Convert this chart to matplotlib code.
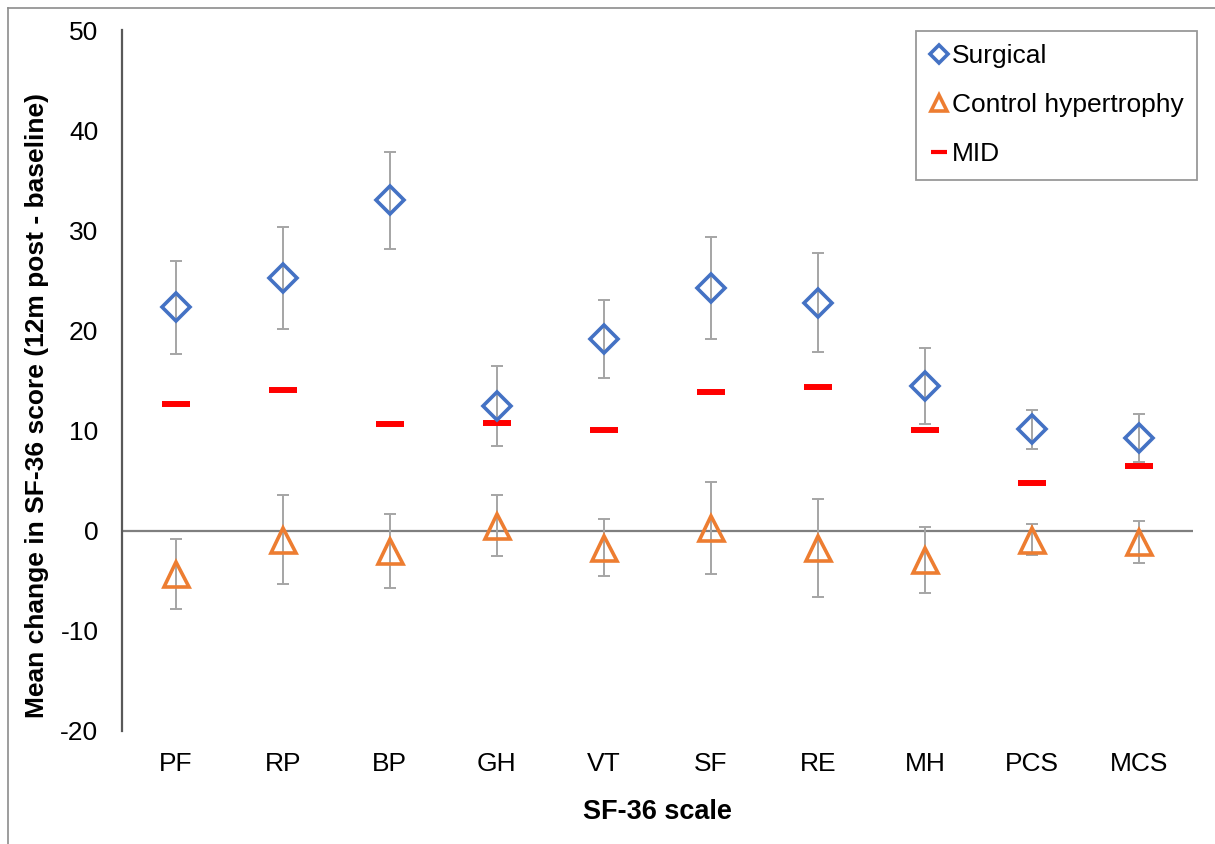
import numpy as np
import matplotlib.pyplot as plt
from matplotlib.lines import Line2D

plt.rcParams['font.family'] = ['Liberation Sans', 'DejaVu Sans']
plt.rcParams['axes.unicode_minus'] = False

scales = ['PF', 'RP', 'BP', 'GH', 'VT', 'SF', 'RE', 'MH', 'PCS', 'MCS']
surgical = [22.3, 25.2, 33.0, 12.45, 19.1, 24.2, 22.75, 14.45, 10.15, 9.3]
surgical_err = [4.65, 5.1, 4.85, 3.95, 3.9, 5.1, 4.95, 3.75, 1.95, 2.4]
control = [-4.3, -0.9, -2.0, 0.5, -1.7, 0.28, -1.75, -2.95, -0.9, -1.1]
control_err = [3.5, 4.45, 3.7, 3.06, 2.87, 4.58, 4.88, 3.3, 1.55, 2.1]
mid = [12.7, 14.1, 10.7, 10.8, 10.1, 13.9, 14.4, 10.1, 4.8, 6.5]

x = np.arange(len(scales))

fig = plt.figure(figsize=(12.15, 8.44), dpi=100)
ax = fig.add_axes([122/1215, 1-731/844, 1071/1215, 701/844])

blue = '#4472C4'
orange = '#ED7D31'
grey = '#A5A5A5'

ax.axhline(0, color='#7f7f7f', lw=1.6, zorder=1)

ax.errorbar(x, surgical, yerr=surgical_err, fmt='none', ecolor=grey,
            elinewidth=1.4, capsize=4.3, capthick=1.4, zorder=2)
ax.errorbar(x, control, yerr=control_err, fmt='none', ecolor=grey,
            elinewidth=1.4, capsize=4.3, capthick=1.4, zorder=2)

ax.plot(x, surgical, ls='none', marker='D', ms=14, mfc='none', mec=blue,
        mew=2.6, zorder=4, label='Surgical')
ax.plot(x, control, ls='none', marker='^', ms=18, mfc='none', mec=orange,
        mew=2.6, zorder=4, label='Control hypertrophy')
ax.plot(x, mid, ls='none', marker='_', ms=19.5, mec='#FF0000', mew=4.3,
        zorder=3, label='MID')

ax.set_xlim(-0.5, 9.5)
ax.set_ylim(-20, 50)
ax.set_yticks(np.arange(-20, 51, 10))
ax.set_xticks(x)
ax.set_xticklabels(scales)
ax.tick_params(axis='both', length=0, labelsize=19, colors='black')
ax.tick_params(axis='y', pad=17)
ax.tick_params(axis='x', pad=15)

for s in ['top', 'right', 'bottom']:
    ax.spines[s].set_visible(False)
ax.spines['left'].set_color('#595959')
ax.spines['left'].set_linewidth(1.6)

ax.set_xlabel('SF-36 scale', fontsize=19.5, fontweight='bold', labelpad=17)
fig.text(37/1215, 1-406/844, 'Mean change in SF-36 score (12m post - baseline)',
         rotation=90, ha='center', va='center', fontsize=19, fontweight='bold',
         family=['Liberation Sans Narrow', 'Liberation Sans'])

handles = [
    Line2D([], [], ls='none', marker='D', ms=9, mfc='none', mec=blue, mew=2.6),
    Line2D([], [], ls='none', marker='^', ms=11, mfc='none', mec=orange, mew=2.6),
    Line2D([], [], ls='none', marker='_', ms=12, mec='#FF0000', mew=3),
]
leg = ax.legend(handles, ['Surgical', 'Control hypertrophy', 'MID'],
                loc='upper right', bbox_to_anchor=(1.0037, 0.9986), fontsize=19,
                frameon=True, fancybox=False, edgecolor='#7f7f7f',
                handlelength=0.7, handletextpad=0.15, labelspacing=0.95,
                borderpad=0.5, borderaxespad=0)
leg.get_frame().set_linewidth(1.3)

fig.add_artist(Line2D([8/1215, 8/1215], [0, 1-8/844], color='#8c8c8c', lw=1.2))
fig.add_artist(Line2D([8/1215, 1], [1-8/844, 1-8/844], color='#8c8c8c', lw=1.2))

fig.savefig('out.png', dpi=100)
